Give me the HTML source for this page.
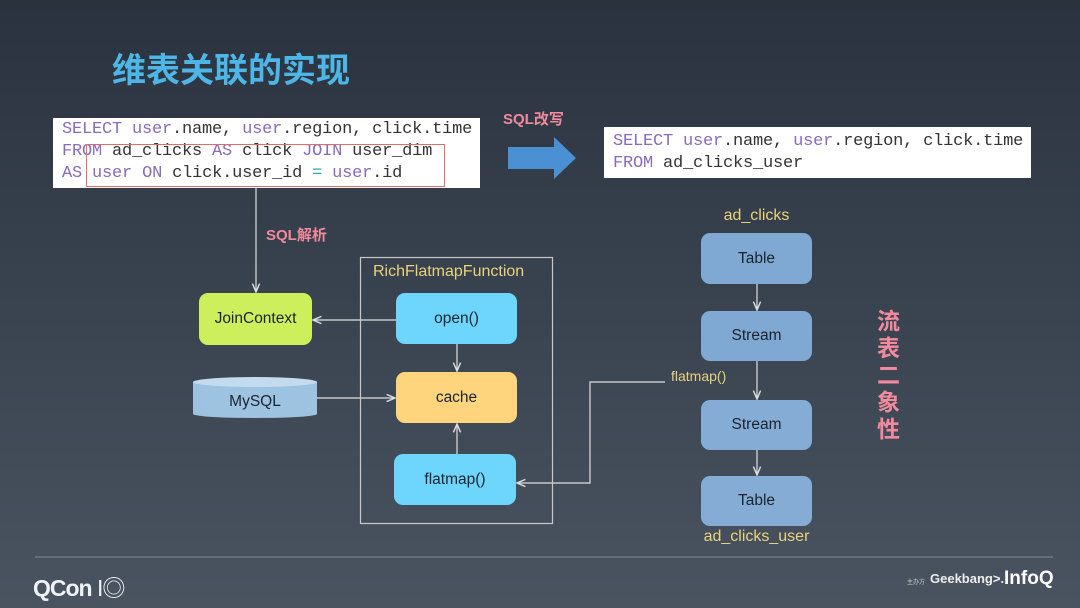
<!DOCTYPE html>
<html><head><meta charset="utf-8"><style>
*{margin:0;padding:0;box-sizing:border-box}
body{width:1080px;height:608px;overflow:hidden;position:relative;background:linear-gradient(180deg,#2a323e 0%,#3b4552 55%,#4a5461 100%);font-family:"Liberation Sans","Noto Sans CJK SC",sans-serif}
.a{position:absolute}
.code{font-family:"Liberation Mono",monospace;font-size:17px;line-height:22px;color:#333;white-space:pre;letter-spacing:-0.2px}
.k{color:#8a6bb8}
.n{position:absolute;border-radius:9px;display:flex;align-items:center;justify-content:center;font-size:15.5px;color:#1a2430}
.lbl{position:absolute;color:#e9d27c;font-size:16px}
</style></head><body>
<div class="a" style="left:112px;top:43px;font-size:34px;font-weight:bold;color:#4db6e6;font-family:'Noto Sans CJK SC',sans-serif">维表关联的实现</div>

<div class="a code" style="left:53px;top:118px;width:427px;height:70px;background:#fff;padding:1px 0 0 9px"><span class="k">SELECT</span> <span class="k">user</span>.name, <span class="k">user</span>.region, click.time
<span class="k">FROM</span> ad_clicks <span class="k">AS</span> click <span class="k">JOIN</span> user_dim
<span class="k">AS</span> <span class="k">user</span> <span class="k">ON</span> click.user_id <span style="color:#3aa">=</span> <span class="k">user</span>.id</div>
<div class="a" style="left:86px;top:144px;width:359px;height:43px;border:1.5px solid #e56a6a"></div>

<div class="a" style="left:503px;top:108px;font-size:15px;font-weight:bold;color:#f08a9c">SQL改写</div>
<svg class="a" style="left:506px;top:136px" width="72" height="44"><polygon points="2,11 48,11 48,1 70,22 48,43 48,33 2,33" fill="#4a90d2"/></svg>

<div class="a code" style="left:604px;top:127px;width:427px;height:51px;background:#fff;padding:4px 0 0 9px"><span class="k">SELECT</span> <span class="k">user</span>.name, <span class="k">user</span>.region, click.time
<span class="k">FROM</span> ad_clicks_user</div>

<svg class="a" style="left:0;top:0" width="1080" height="608">
<defs><marker id="m" markerWidth="8" markerHeight="8" refX="7" refY="4" orient="auto"><path d="M0,1 L7,4 L0,7" fill="none" stroke="#ddd" stroke-width="1.2"/></marker></defs>
<g stroke="#e0e0e0" stroke-width="1.2" fill="none">
<line x1="256" y1="188" x2="256" y2="292" marker-end="url(#m)"/>
<line x1="396" y1="320" x2="313" y2="320" marker-end="url(#m)"/>
<line x1="457" y1="344" x2="457" y2="371" marker-end="url(#m)"/>
<line x1="317" y1="398" x2="395" y2="398" marker-end="url(#m)"/>
<line x1="457" y1="454" x2="457" y2="424" marker-end="url(#m)"/>
<polyline points="665,382 590,382 590,483 517,483" marker-end="url(#m)"/>
<line x1="757" y1="284" x2="757" y2="310" marker-end="url(#m)"/>
<line x1="757" y1="361" x2="757" y2="399" marker-end="url(#m)"/>
<line x1="757" y1="450" x2="757" y2="475" marker-end="url(#m)"/>
</g>
<rect x="360.5" y="257.5" width="192" height="266" fill="none" stroke="#c8c8c8" stroke-width="1.2"/>
<rect x="193" y="382" width="124" height="32" fill="#9ec3e0"/>
<ellipse cx="255" cy="414" rx="62" ry="4" fill="#9ec3e0"/>
<ellipse cx="255" cy="382" rx="62" ry="5" fill="#c3dbec"/>
<line x1="35" y1="557" x2="1053" y2="557" stroke="#6c7886" stroke-width="1.5"/>
</svg>

<div class="a" style="left:266px;top:224px;font-size:15px;font-weight:bold;color:#f08a9c">SQL解析</div>
<div class="n" style="left:199px;top:293px;width:113px;height:52px;background:#cdef5b">JoinContext</div>
<div class="a" style="left:193px;top:393px;width:124px;text-align:center;font-size:15.5px;color:#1a2430">MySQL</div>
<div class="lbl" style="left:373px;top:263px">RichFlatmapFunction</div>
<div class="n" style="left:396px;top:293px;width:121px;height:51px;background:#6ed6fc">open()</div>
<div class="n" style="left:396px;top:372px;width:121px;height:51px;background:#fed57c">cache</div>
<div class="n" style="left:394px;top:454px;width:122px;height:51px;background:#6ed6fc">flatmap()</div>

<div class="lbl" style="left:671px;top:368px;font-size:14px">flatmap()</div>
<div class="lbl" style="left:701px;top:207px;width:111px;text-align:center">ad_clicks</div>
<div class="n" style="left:701px;top:233px;width:111px;height:51px;background:#7fa9d2">Table</div>
<div class="n" style="left:701px;top:311px;width:111px;height:50px;background:#7fa9d2">Stream</div>
<div class="n" style="left:701px;top:400px;width:111px;height:50px;background:#84acd4">Stream</div>
<div class="n" style="left:701px;top:476px;width:111px;height:50px;background:#84acd4">Table</div>
<div class="lbl" style="left:680px;top:528px;width:153px;text-align:center">ad_clicks_user</div>
<div class="a" style="left:877px;top:306px;width:26px;font-size:23px;line-height:27px;font-weight:bold;color:#f08a9c;font-family:'Noto Sans CJK SC',sans-serif">流<br>表<br>二<br>象<br>性</div>

<div class="a" style="left:33px;top:569px;font-size:23px;font-weight:bold;color:#f0f2f5;letter-spacing:-1px">QCon <span style="font-weight:normal">I◎</span></div>
<div class="a" style="left:907px;top:577px;font-size:6px;color:#ccc">主办方</div>
<div class="a" style="left:930px;top:571px;font-size:13px;font-weight:bold;color:#eee">Geekbang&gt;.</div>
<div class="a" style="left:1004px;top:568px;font-size:19px;font-weight:bold;color:#fff">InfoQ</div>
</body></html>
